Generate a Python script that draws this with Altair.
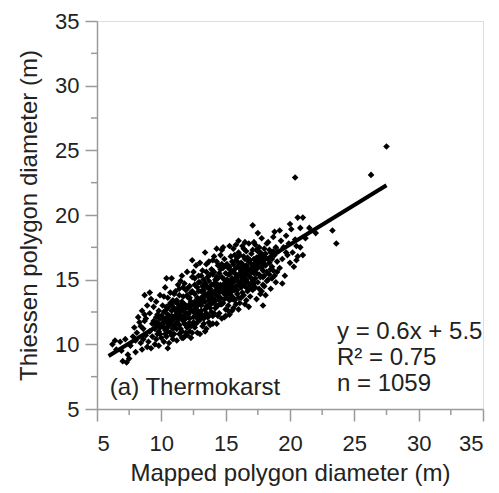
import altair as alt
import pandas as pd

# ---- scatter points (mapped diameter, Thiessen diameter), grouped by x band
band_06_09 = [(6.2,10.0),(6.5,9.6),(6.8,10.2),(7.0,8.7),(7.3,8.6),(7.4,9.2),(6.9,9.5),(7.2,10.4),(7.6,9.9),(7.5,8.9),(6.4,10.3),
              (7.8,10.6),(8.0,9.4),(8.1,10.9),(8.3,11.7),(8.4,10.1),(8.5,9.6),(8.6,11.2),(8.7,12.3),(8.8,10.7),(8.9,9.8),
              (7.9,11.3),(8.2,12.1),(8.5,12.6),(8.7,11.8),(8.9,13.0),(8.0,10.3),(8.6,10.4),(8.4,11.4),(8.8,12.0),(8.7,13.8)]
band_09_10 = [(9.0,10.2),(9.1,11.0),(9.1,12.4),(9.2,13.5),(9.2,9.7),(9.3,11.6),(9.3,10.6),(9.4,12.9),(9.1,14.0),(9.5,11.2),
              (9.5,10.0),(9.6,12.1),(9.6,13.3),(9.7,10.8),(9.7,11.7),(9.8,12.6),(9.8,9.9),(9.9,11.3),(9.9,13.8),(10.0,10.5),
              (10.0,12.2),(9.6,10.4),(9.4,11.8),(9.8,11.0)]
band_10_11 = [(10.1,11.6),(10.1,13.0),(10.2,10.2),(10.2,12.5),(10.3,11.1),(10.3,14.4),(10.4,11.9),(10.4,10.6),(10.5,12.8),
              (10.5,13.6),(10.5,9.7),(10.6,11.4),(10.6,12.2),(10.7,10.9),(10.7,13.2),(10.8,11.8),(10.8,15.1),(10.8,12.6),
              (10.9,10.4),(10.9,11.2),(11.0,12.0),(11.0,13.9),(10.2,11.3),(10.4,12.9),(10.6,10.1),(10.9,12.9),(10.3,12.0),
              (10.7,14.0),(11.0,10.8),(10.5,11.0),(10.4,15.1)]
band_11_12 = [(11.1,11.5),(11.1,12.6),(11.2,10.3),(11.2,13.4),(11.3,11.9),(11.3,14.6),(11.4,12.3),(11.4,10.8),(11.5,13.0),
              (11.5,11.2),(11.6,12.0),(11.6,15.3),(11.7,10.5),(11.7,13.7),(11.8,12.5),(11.8,11.6),(11.9,14.2),(11.9,10.9),
              (12.0,12.9),(12.0,11.3),(11.2,12.1),(11.4,13.8),(11.6,11.0),(11.8,13.1),(11.3,12.8),(11.5,14.9),(11.7,12.2),
              (11.9,12.0),(11.1,14.1),(12.0,15.6),(11.5,12.6),(11.8,10.6)]
band_12_13 = [(12.1,12.3),(12.1,13.6),(12.2,11.0),(12.2,14.5),(12.3,12.7),(12.3,10.5),(12.4,13.2),(12.4,15.2),(12.5,11.7),
              (12.5,12.1),(12.6,13.9),(12.6,11.3),(12.7,12.8),(12.7,16.1),(12.8,14.4),(12.8,10.9),(12.9,12.4),(12.9,13.5),
              (13.0,11.9),(13.0,14.8),(12.2,12.0),(12.4,11.5),(12.6,12.5),(12.8,13.0),(12.3,14.0),(12.5,15.6),(12.7,11.6),
              (12.9,15.3),(12.1,11.6),(12.6,14.6),(13.0,13.2),(12.4,12.6),(12.8,12.0),(12.2,13.1)]
band_13_14 = [(13.1,12.6),(13.1,14.1),(13.2,11.4),(13.2,15.7),(13.3,13.3),(13.3,12.0),(13.4,14.7),(13.4,11.0),(13.5,13.8),
              (13.5,12.4),(13.6,15.2),(13.6,13.0),(13.7,11.7),(13.7,16.4),(13.8,14.3),(13.8,12.8),(13.9,13.5),(13.9,15.8),
              (14.0,12.2),(14.0,14.0),(13.2,13.7),(13.4,12.7),(13.6,14.4),(13.8,13.1),(13.3,15.0),(13.5,11.2),(13.7,14.9),
              (13.9,12.5),(13.1,13.0),(13.5,16.2),(13.7,13.4),(14.0,15.4),(13.4,13.9),(13.8,11.5),(13.4,17.1)]
band_14_15 = [(14.1,13.3),(14.1,16.8),(14.2,12.8),(14.2,15.0),(14.3,14.2),(14.3,11.6),(14.4,13.7),(14.4,16.1),(14.5,12.4),
              (14.5,15.5),(14.6,14.6),(14.6,13.1),(14.7,17.3),(14.7,12.0),(14.8,14.0),(14.8,15.9),(14.9,13.5),(14.9,16.6),
              (15.0,12.7),(15.0,14.9),(14.2,14.5),(14.4,12.2),(14.6,15.8),(14.8,13.2),(14.3,16.4),(14.5,14.0),(14.7,14.4),
              (14.9,12.1),(14.1,14.0),(14.6,16.9),(15.0,13.8),(14.4,15.1),(14.8,17.5),(14.2,13.9)]
band_15_16 = [(15.1,14.3),(15.1,16.2),(15.2,13.0),(15.2,15.4),(15.3,14.7),(15.3,12.3),(15.4,16.8),(15.4,13.8),(15.5,15.1),
              (15.5,14.1),(15.6,17.4),(15.6,12.8),(15.7,15.8),(15.7,13.4),(15.8,14.5),(15.8,16.5),(15.9,13.9),(15.9,15.2),
              (16.0,14.8),(16.0,17.1),(15.2,14.0),(15.4,15.7),(15.6,14.4),(15.8,13.1),(15.3,16.0),(15.5,12.6),(15.7,16.9),
              (15.9,14.2),(15.1,15.0),(15.5,16.4),(16.0,13.6),(15.6,15.6),(15.3,13.4),(15.8,17.7)]
band_16_17 = [(16.1,15.5),(16.1,13.2),(16.2,16.3),(16.2,14.4),(16.3,17.6),(16.3,15.0),(16.4,13.8),(16.4,16.8),(16.5,14.9),
              (16.5,15.9),(16.6,13.4),(16.6,17.2),(16.7,15.4),(16.7,14.1),(16.8,16.4),(16.8,12.9),(16.9,15.8),(16.9,14.6),
              (17.0,17.0),(17.0,15.1),(16.2,15.7),(16.4,15.2),(16.6,16.1),(16.8,14.3),(16.3,14.0),(16.5,17.9),(16.7,16.7),
              (16.9,13.7),(16.1,16.9),(17.0,16.2),(16.5,13.1),(16.6,15.0)]
band_17_18 = [(17.1,15.6),(17.1,14.2),(17.2,16.6),(17.3,15.1),(17.3,17.7),(17.4,13.5),(17.4,16.0),(17.5,14.8),(17.5,17.2),
              (17.6,15.4),(17.7,16.5),(17.7,13.9),(17.8,15.9),(17.8,18.2),(17.9,14.6),(17.9,16.9),(18.0,15.3),(18.0,17.4),
              (17.2,14.7),(17.6,16.8),(17.4,15.5),(17.8,14.1),(17.1,17.3),(17.5,15.9),(17.9,15.7),(17.3,16.3),(17.5,18.6),
              (17.1,19.2),(17.9,13.0)]
band_18_19 = [(18.1,16.1),(18.2,14.9),(18.2,17.8),(18.3,16.6),(18.4,15.4),(18.5,17.1),(18.5,14.3),(18.6,16.0),(18.7,18.3),
              (18.7,15.7),(18.8,16.9),(18.9,14.8),(18.9,17.5),(19.0,16.4),(18.4,16.3),(18.6,15.1),(18.8,18.7),(18.3,17.9),
              (19.0,15.6),(18.1,13.8)]
band_19_21 = [(19.1,17.2),(19.2,15.9),(19.3,18.0),(19.4,16.6),(19.5,17.5),(19.6,15.3),(19.7,18.4),(19.8,16.9),(19.9,17.8),
              (20.0,16.3),(20.1,18.9),(20.2,17.1),(20.3,16.0),(20.4,18.1),(19.4,14.7),(19.7,17.1),(20.5,17.6),(19.2,18.8),
              (20.0,19.3),(20.6,16.8),(20.5,16.5),(20.8,19.0),(20.6,19.8),(21.0,19.8),(20.8,17.5),(21.0,16.9),(21.2,18.2)]
band_outliers = [(21.5,19.0),(22.0,18.6),(20.4,22.9),(26.3,23.1),(27.5,25.3),(23.3,18.8),(23.6,17.8)]
# dense core of the cloud
core_a = [(9.5,11.6),(9.7,12.3),(9.9,12.0),(10.0,11.4),(10.1,12.1),(10.2,11.8),(10.3,12.6),(10.4,11.3),(10.5,12.3),
          (10.6,13.0),(10.7,11.6),(10.8,12.2),(10.9,13.4),(11.0,11.5),(11.1,12.2),(11.2,11.7),(11.3,13.1),(11.4,11.5),
          (11.5,12.2),(11.6,13.3),(11.7,11.8),(11.8,12.9),(11.9,11.5),(12.0,12.4),(12.1,12.9),(12.2,12.5),(12.3,11.4),
          (12.4,14.1),(12.5,13.0),(10.2,13.7),(10.6,11.8),(11.0,12.7),(11.4,12.9),(11.8,14.7),(12.2,11.6),(10.8,10.7),
          (11.2,11.2),(11.6,10.5),(12.0,13.8),(12.4,10.9)]
core_b = [(12.6,13.3),(12.7,12.2),(12.8,13.6),(12.9,11.8),(13.0,12.5),(13.1,13.5),(13.2,12.2),(13.3,14.2),(13.4,13.3),
          (13.5,12.9),(13.6,13.7),(13.7,12.2),(13.8,13.8),(13.9,14.6),(14.0,13.2),(14.1,12.4),(14.2,13.4),(14.3,15.2),
          (14.4,14.3),(14.5,13.4),(14.6,14.1),(14.7,13.1),(14.8,14.6),(14.9,14.1),(15.0,15.5),(15.1,13.6),(15.2,14.6),
          (15.3,15.4),(15.4,14.4),(12.9,14.1),(13.3,11.6),(13.6,12.1),(14.0,16.5),(14.3,13.0),(14.7,15.2),(15.0,14.3),
          (13.1,15.3),(13.9,14.0),(14.5,16.1),(15.2,12.6),(14.1,15.6),(13.5,14.5)]
core_c = [(15.5,14.7),(15.6,13.6),(15.7,14.9),(15.8,15.4),(15.9,16.0),(16.0,15.3),(16.1,14.6),(16.2,15.2),(16.3,16.2),
          (16.4,14.6),(16.5,15.4),(16.6,14.4),(16.7,15.9),(16.8,15.3),(16.9,16.5),(17.0,14.4),(17.1,16.1),(17.2,15.5),
          (17.3,14.4),(17.4,16.7),(17.5,16.4),(17.6,14.3),(17.7,15.2),(17.8,16.6),(17.9,15.2),(18.0,16.2),(18.1,17.0),
          (18.2,15.6),(18.3,15.0),(18.4,17.3),(18.5,15.8),(18.6,16.6),(18.7,17.2),(18.8,15.3),(15.7,14.2),(16.0,16.3),
          (16.4,17.4),(16.8,17.8),(17.2,17.9),(16.2,13.6),(17.6,17.5),(18.0,14.5)]
core_d = [(11.3,12.4),(11.6,12.7),(11.9,13.0),(12.2,13.6),(12.5,12.5),(12.8,12.6),(13.1,12.2),(13.4,12.3),(13.7,14.0),
          (14.0,13.6),(14.3,14.7),(14.6,13.6),(14.9,15.0),(15.2,15.9),(15.5,13.5),(15.8,15.0),(16.1,15.9),(16.4,16.0),
          (16.7,14.8),(17.0,15.6),(17.3,15.8),(17.6,16.1),(17.9,16.3),(11.4,14.3),(11.7,14.4),(12.0,14.3),(12.3,13.3),
          (12.6,15.1),(12.9,14.8),(13.2,14.5),(13.5,15.6),(13.8,15.4),(14.1,14.7),(14.4,13.0),(14.7,16.2),(15.0,16.1),
          (15.3,14.1),(15.6,16.2),(15.9,16.7),(16.2,14.9),(16.5,16.6),(16.8,15.8),(17.1,14.9),(17.4,17.3),(17.7,17.1),
          (18.0,16.8),(10.5,11.6),(10.8,13.1),(11.1,13.3),(11.4,12.0),(9.9,10.8),(10.3,10.8),(12.0,10.7),(13.0,10.8),
          (14.0,11.6),(15.0,12.2),(16.0,12.7),(12.4,16.5),(13.0,16.3),(14.3,17.4),(15.3,17.6),(16.0,18.0)]

# regression line end points (as drawn)
fit_x = [5.9, 27.5]
fit_y = [9.1, 22.3]

# axis ticks
major_ticks = [5, 10, 15, 20, 25, 30, 35]
minor_ticks = [7.5, 12.5, 17.5, 22.5, 27.5, 32.5]

# annotation texts and anchor positions (data units)
stats_lines = ["y = 0.6x + 5.5", "R\u00b2 = 0.75", "n = 1059"]
stats_y = [10.45, 8.4, 6.4]
stats_x = 23.65
panel_label = "(a) Thermokarst"
panel_x, panel_y = 6.0, 6.08

points = (band_06_09 + band_09_10 + band_10_11 + band_11_12 + band_12_13 + band_13_14 + band_14_15 +
          band_15_16 + band_16_17 + band_17_18 + band_18_19 + band_19_21 + band_outliers +
          core_a + core_b + core_c + core_d)
pts = pd.DataFrame(points, columns=["mapped", "thiessen"])
fit = pd.DataFrame({"mapped": fit_x, "thiessen": fit_y})
ann = pd.DataFrame({"mapped": [stats_x] * 3, "thiessen": stats_y, "t": stats_lines})
lab = pd.DataFrame({"mapped": [panel_x], "thiessen": [panel_y], "t": [panel_label]})
minor = pd.DataFrame({"v": minor_ticks})

FONT = "Liberation Sans"
AX = "#9a9a9a"
TXT = "#222222"

xs = alt.Scale(domain=[5, 35], nice=False, zero=False)
ys = alt.Scale(domain=[5, 35], nice=False, zero=False)

xaxis = alt.Axis(values=major_ticks, title="Mapped polygon diameter (m)", grid=False,
                 domainColor=AX, tickColor=AX, domainWidth=1.5, tickWidth=1.5, tickSize=12,
                 labelFont=FONT, labelFontSize=22, labelColor=TXT, labelPadding=12,
                 titleFont=FONT, titleFontSize=24, titleColor=TXT, titleFontWeight="normal", titlePadding=7)
yaxis = alt.Axis(values=major_ticks, title="Thiessen polygon diameter (m)", grid=False,
                 domainColor=AX, tickColor=AX, domainWidth=1.5, tickWidth=1.5, tickSize=12,
                 labelFont=FONT, labelFontSize=22, labelColor=TXT, labelPadding=6,
                 titleFont=FONT, titleFontSize=24, titleColor=TXT, titleFontWeight="normal", titlePadding=13)

scatter = alt.Chart(pts).mark_point(shape="diamond", filled=True, size=44, color="black", opacity=1).encode(
    x=alt.X("mapped:Q", scale=xs, axis=xaxis),
    y=alt.Y("thiessen:Q", scale=ys, axis=yaxis),
)
line = alt.Chart(fit).mark_line(color="black", strokeWidth=4).encode(
    x=alt.X("mapped:Q", scale=xs), y=alt.Y("thiessen:Q", scale=ys))
stats = alt.Chart(ann).mark_text(align="left", baseline="alphabetic", font=FONT, fontSize=24, color=TXT).encode(
    x=alt.X("mapped:Q", scale=xs), y=alt.Y("thiessen:Q", scale=ys), text="t:N")
panel = alt.Chart(lab).mark_text(align="left", baseline="alphabetic", font=FONT, fontSize=24, color=TXT).encode(
    x=alt.X("mapped:Q", scale=xs), y=alt.Y("thiessen:Q", scale=ys), text="t:N")
minor_y = alt.Chart(minor).mark_rule(color=AX, strokeWidth=1.5).encode(
    y=alt.Y("v:Q", scale=ys), x=alt.value(-6), x2=alt.value(0))
minor_x = alt.Chart(minor).mark_rule(color=AX, strokeWidth=1.5).encode(
    x=alt.X("v:Q", scale=xs), y=alt.value(388), y2=alt.value(394))

chart = alt.layer(scatter, line, stats, panel, minor_y, minor_x).properties(
    width=386, height=388,
    autosize=alt.AutoSizeParams(type="none"),
    padding={"left": 97, "top": 21, "right": 16, "bottom": 84},
).configure_view(stroke=None).configure(background="white")

chart.save("out.html", embed_options={"renderer": "svg", "actions": False})
